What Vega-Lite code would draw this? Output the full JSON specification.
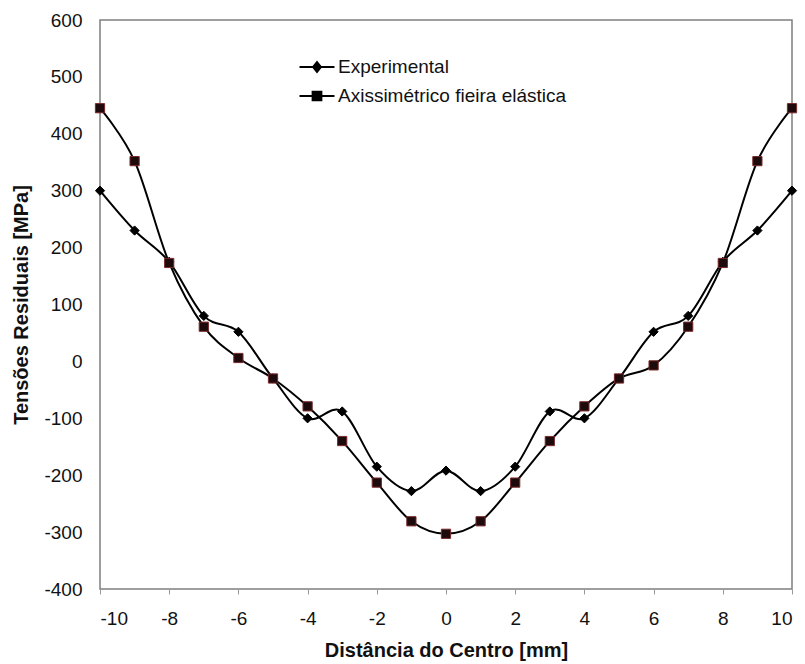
{
  "$schema": "https://vega.github.io/schema/vega-lite/v6.json",
  "width": 692,
  "height": 569,
  "autosize": {"type": "none"},
  "padding": {"left": 100, "top": 20, "right": 13, "bottom": 75},
  "background": "white",
  "config": {
    "font": "Liberation Sans",
    "view": {"stroke": "#7f7f7f", "strokeWidth": 1.5},
    "axis": {
      "grid": false,
      "domain": false,
      "labelFont": "Liberation Sans",
      "labelFontSize": 19,
      "labelColor": "#111",
      "labelExpr": "'' + datum.value",
      "titleFont": "Liberation Sans",
      "titleFontSize": 20,
      "titleFontWeight": "bold",
      "titleColor": "#111",
      "tickColor": "#9a9a9a"
    }
  },
  "data": {
    "values": [
      {"x": -10, "y": 300, "serie": "Experimental"},
      {"x": -9, "y": 230, "serie": "Experimental"},
      {"x": -8, "y": 175, "serie": "Experimental"},
      {"x": -7, "y": 80, "serie": "Experimental"},
      {"x": -6, "y": 52, "serie": "Experimental"},
      {"x": -5, "y": -30, "serie": "Experimental"},
      {"x": -4, "y": -100, "serie": "Experimental"},
      {"x": -3, "y": -88, "serie": "Experimental"},
      {"x": -2, "y": -185, "serie": "Experimental"},
      {"x": -1, "y": -228, "serie": "Experimental"},
      {"x": 0, "y": -192, "serie": "Experimental"},
      {"x": 1, "y": -228, "serie": "Experimental"},
      {"x": 2, "y": -185, "serie": "Experimental"},
      {"x": 3, "y": -88, "serie": "Experimental"},
      {"x": 4, "y": -100, "serie": "Experimental"},
      {"x": 5, "y": -30, "serie": "Experimental"},
      {"x": 6, "y": 52, "serie": "Experimental"},
      {"x": 7, "y": 80, "serie": "Experimental"},
      {"x": 8, "y": 175, "serie": "Experimental"},
      {"x": 9, "y": 230, "serie": "Experimental"},
      {"x": 10, "y": 300, "serie": "Experimental"},
      {"x": -10, "y": 445, "serie": "Axissimétrico fieira elástica"},
      {"x": -9, "y": 352, "serie": "Axissimétrico fieira elástica"},
      {"x": -8, "y": 173, "serie": "Axissimétrico fieira elástica"},
      {"x": -7, "y": 61, "serie": "Axissimétrico fieira elástica"},
      {"x": -6, "y": 6, "serie": "Axissimétrico fieira elástica"},
      {"x": -5, "y": -30, "serie": "Axissimétrico fieira elástica"},
      {"x": -4, "y": -79, "serie": "Axissimétrico fieira elástica"},
      {"x": -3, "y": -140, "serie": "Axissimétrico fieira elástica"},
      {"x": -2, "y": -213, "serie": "Axissimétrico fieira elástica"},
      {"x": -1, "y": -281, "serie": "Axissimétrico fieira elástica"},
      {"x": 0, "y": -303, "serie": "Axissimétrico fieira elástica"},
      {"x": 1, "y": -281, "serie": "Axissimétrico fieira elástica"},
      {"x": 2, "y": -213, "serie": "Axissimétrico fieira elástica"},
      {"x": 3, "y": -140, "serie": "Axissimétrico fieira elástica"},
      {"x": 4, "y": -79, "serie": "Axissimétrico fieira elástica"},
      {"x": 5, "y": -30, "serie": "Axissimétrico fieira elástica"},
      {"x": 6, "y": -7, "serie": "Axissimétrico fieira elástica"},
      {"x": 7, "y": 61, "serie": "Axissimétrico fieira elástica"},
      {"x": 8, "y": 173, "serie": "Axissimétrico fieira elástica"},
      {"x": 9, "y": 352, "serie": "Axissimétrico fieira elástica"},
      {"x": 10, "y": 445, "serie": "Axissimétrico fieira elástica"}
    ]
  },
  "encoding": {
    "x": {
      "field": "x",
      "type": "quantitative",
      "title": "Distância do Centro [mm]",
      "scale": {"domain": [-10, 10], "nice": false, "zero": false},
      "axis": {"values": [-10, -8, -6, -4, -2, 0, 2, 4, 6, 8, 10], "tickSize": 5, "labelPadding": 15, "titlePadding": 12}
    },
    "y": {
      "field": "y",
      "type": "quantitative",
      "title": "Tensões Residuais [MPa]",
      "scale": {"domain": [-400, 600], "nice": false},
      "axis": {"values": [-400, -300, -200, -100, 0, 100, 200, 300, 400, 500, 600], "ticks": false, "labelPadding": 18, "titlePadding": 12}
    }
  },
  "resolve": {"scale": {"shape": "independent"}, "legend": {"shape": "independent"}},
  "layer": [
    {
      "mark": {"type": "line", "interpolate": "cardinal", "color": "black", "strokeWidth": 2},
      "encoding": {"detail": {"field": "serie"}}
    },
    {
      "mark": {"type": "point", "filled": false, "size": 85, "opacity": 1, "strokeWidth": 1},
      "encoding": {
        "shape": {
          "field": "serie",
          "type": "nominal",
          "scale": {"domain": ["Experimental", "Axissimétrico fieira elástica"], "range": ["diamond", "square"]},
          "legend": null
        },
        "fill": {
          "field": "serie",
          "type": "nominal",
          "scale": {"domain": ["Experimental", "Axissimétrico fieira elástica"], "range": ["#000000", "#1c0a0c"]},
          "legend": null
        },
        "stroke": {
          "field": "serie",
          "type": "nominal",
          "scale": {"domain": ["Experimental", "Axissimétrico fieira elástica"], "range": ["#000000", "#7a2a2a"]},
          "legend": null
        }
      }
    },
    {
      "transform": [{"filter": "false"}],
      "mark": {"type": "point", "filled": true, "fill": "black", "stroke": "black", "strokeWidth": 2, "opacity": 1},
      "encoding": {
        "shape": {
          "field": "serie",
          "type": "nominal",
          "scale": {
            "domain": ["Experimental", "Axissimétrico fieira elástica"],
            "range": ["M-2,0H2M0,-0.55L0.45,0L0,0.55L-0.45,0Z", "M-2,0H2M-0.5,-0.5H0.5V0.5H-0.5Z"]
          },
          "legend": {
            "title": null,
            "orient": "none",
            "legendX": 207,
            "legendY": 37,
            "padding": 0,
            "symbolSize": 306,
            "symbolStrokeWidth": 2,
            "symbolOpacity": 1,
            "labelFontSize": 19,
            "labelFont": "Liberation Sans",
            "labelColor": "#111",
            "labelLimit": 400,
            "labelOffset": 11,
            "rowPadding": 9
          }
        }
      }
    }
  ]
}
